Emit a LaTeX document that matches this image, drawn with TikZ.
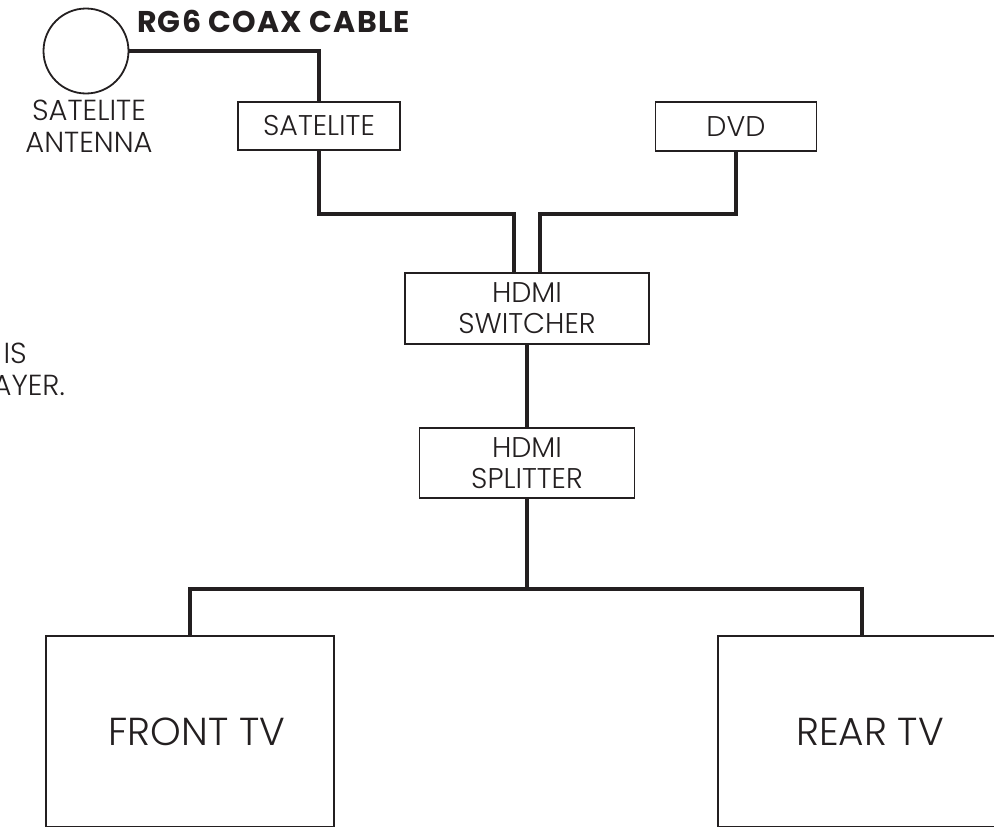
\documentclass[tikz,border=0pt]{standalone}
\usepackage{fontspec}
\setmainfont{Poppins}[UprightFont=* Light, BoldFont=* Bold]
\usetikzlibrary{calc}
\definecolor{ink}{RGB}{35,31,32}
\begin{document}
\begin{tikzpicture}[x=1pt,y=-1pt,
  lbl/.style={inner sep=0pt, text=ink, align=center, font=\fontsize{29}{32}\selectfont},
  box/.style={draw=ink, line width=1.8pt, rectangle, inner sep=0pt, align=center, text=ink, font=\fontsize{28.5}{31}\selectfont},
  tvbox/.style={box, font=\fontsize{39}{44}\selectfont},
  cable/.style={draw=ink, line width=4.5pt}]
\useasboundingbox (0,0) rectangle (994,827);
% nodes
\node[circle, draw=ink, line width=1.8pt, minimum size=85pt, inner sep=0pt] (ant) at (86,51) {};
\node[lbl] (antlbl) at (89,126) {SATELITE\\ANTENNA};
\node[lbl, anchor=base west, font=\fontsize{30}{32}\bfseries\selectfont\addfontfeature{LetterSpace=4}] (coax) at (137,32) {RG6 COAX CABLE};
\node[box, minimum width=162pt, minimum height=48pt] (sat) at (319,126) {SATELITE};
\node[box, minimum width=161pt, minimum height=49pt] (dvd) at (736,126.5) {DVD};
\node[box, minimum width=244pt, minimum height=71pt] (sw) at (527,308.5) {HDMI\\SWITCHER};
\node[box, minimum width=215pt, minimum height=70pt] (sp) at (527,463) {HDMI\\SPLITTER};
\node[tvbox, minimum width=288pt, minimum height=191pt] (ftv) at (190,731.5) {\hspace*{14pt}FRONT TV};
\node[tvbox, minimum width=288pt, minimum height=191pt] (rtv) at (862,731.5) {\hspace*{16pt}REAR TV};
\node[lbl, anchor=base east] (n1) at (27,363) {R IS};
\node[lbl, anchor=base east] (n2) at (65,395) {AYER.};
% junction coordinates
\coordinate (swL) at ($(sw.north)+(-13,0)$);
\coordinate (swR) at ($(sw.north)+(13,0)$);
\coordinate (jL) at (514,214);
\coordinate (jR) at (540,214);
\coordinate (hub) at (527,589);
% cables
\draw[cable] (ant.east) -| (sat.north);
\draw[cable] (sat.south) |- (jL) -- (swL);
\draw[cable] (dvd.south) |- (jR) -- (swR);
\draw[cable] (sw.south) -- (sp.north);
\draw[cable] (sp.south) -- (hub);
\draw[cable] (ftv.north) |- (hub) -| (rtv.north);
\end{tikzpicture}
\end{document}
